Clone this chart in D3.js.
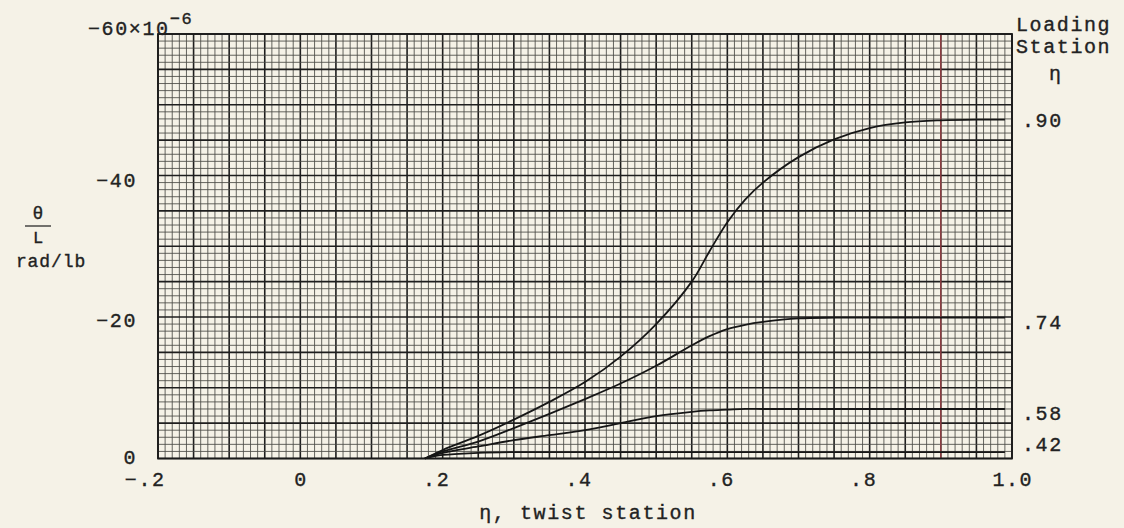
<!DOCTYPE html>
<html>
<head>
<meta charset="utf-8">
<script src="https://cdn.jsdelivr.net/npm/d3@7"></script>
<style>
  html, body { margin: 0; padding: 0; background: #f5f2e7; }
  svg { display: block; }
  text { font-family: "Liberation Mono", "DejaVu Sans Mono", monospace; fill: #222; stroke: #222; stroke-width: 0.35; }
</style>
</head>
<body>
<script>
// Twist per unit load, theta/L (rad/lb x 1e-6), against twist station eta,
// for four loading stations.
const loadingStations = [".90", ".74", ".58", ".42"];

const etaPoints = [0.175, 0.2, 0.25, 0.3, 0.35, 0.4, 0.45, 0.5, 0.55, 0.575, 0.6, 0.625, 0.65, 0.7, 0.75, 0.8, 0.85, 0.9, 0.95, 0.99];

const theta90 = [0, -1.2, -3.2, -5.5, -8.0, -10.8, -14.4, -19.0, -25.0, -29.3, -33.4, -36.6, -39.0, -42.6, -45.1, -46.7, -47.5, -47.8, -47.9, -47.9];
const theta74 = [0, -1.0, -2.4, -4.3, -6.3, -8.4, -10.6, -13.1, -16.0, -17.3, -18.3, -18.9, -19.3, -19.8, -19.9, -19.9, -19.9, -19.9, -19.9, -19.9];
const theta58 = [0, -0.8, -1.7, -2.6, -3.3, -4.0, -5.0, -6.0, -6.6, -6.8, -6.9, -7.0, -7.0, -7.0, -7.0, -7.0, -7.0, -7.0, -7.0, -7.0];
const theta42 = [0, -0.5, -0.8, -0.9, -0.9, -0.9, -0.9, -0.9, -0.9, -0.9, -0.9, -0.9, -0.9, -0.9, -0.9, -0.9, -0.9, -0.9, -0.9, -0.9];

const seriesValues = [theta90, theta74, theta58, theta42];

const xTickValues = [-0.2, 0, 0.2, 0.4, 0.6, 0.8, 1.0];
const xTickLabels = ["\u2212.2", "0", ".2", ".4", ".6", ".8", "1.0"];
const yTickValues = [0, -20, -40];
const yTickLabels = ["0", "\u221220", "\u221240"];

const W = 1124, H = 528;
const svg = d3.select("body").append("svg").attr("width", W).attr("height", H);

const x = d3.scaleLinear().domain([-0.2, 1.0]).range([158, 1012]);
const y = d3.scaleLinear().domain([0, -60]).range([458.5, 34]);

// ---- graph-paper grid: fine lines every 0.01 / 1 unit, heavy every 0.05 / 5 units
const grid = svg.append("g");
const xMinor = d3.range(0, 121).map(i => -0.2 + i * 0.01);
const yMinor = d3.range(0, 61).map(i => -i);

grid.selectAll("line.vx").data(xMinor).join("line")
  .attr("x1", d => x(d)).attr("x2", d => x(d))
  .attr("y1", y(0)).attr("y2", y(-60))
  .attr("stroke", (d, i) => i % 5 === 0 ? "#1e1e1e" : "#4a4a46")
  .attr("stroke-width", (d, i) => i % 5 === 0 ? 1.6 : 0.85);

grid.selectAll("line.hy").data(yMinor).join("line")
  .attr("y1", d => y(d)).attr("y2", d => y(d))
  .attr("x1", x(-0.2)).attr("x2", x(1.0))
  .attr("stroke", (d, i) => i % 5 === 0 ? "#1e1e1e" : "#4a4a46")
  .attr("stroke-width", (d, i) => i % 5 === 0 ? 1.6 : 0.85);

// red marker line at eta = 0.9
grid.append("line")
  .attr("x1", x(0.9)).attr("x2", x(0.9))
  .attr("y1", y(0)).attr("y2", y(-60))
  .attr("stroke", "#a8434a").attr("stroke-width", 1.2);

// plot frame
svg.append("rect")
  .attr("x", x(-0.2)).attr("y", y(-60))
  .attr("width", x(1.0) - x(-0.2)).attr("height", y(0) - y(-60))
  .attr("fill", "none").attr("stroke", "#1a1a1a").attr("stroke-width", 1.8);

// ---- curves
const line = d3.line()
  .x(d => x(d[0])).y(d => y(d[1]))
  .curve(d3.curveCatmullRom.alpha(0.5));

svg.append("g").selectAll("path").data(seriesValues).join("path")
  .attr("d", vals => line(etaPoints.map((e, i) => [e, vals[i]])))
  .attr("fill", "none").attr("stroke", "#161616").attr("stroke-width", 1.8);

// ---- text
const fs = 20, ls = 1.6;
const cw = fs * 0.6 + ls;

// x tick labels: digits centred on the tick, leading "." / "-" hangs left
svg.append("g").selectAll("text").data(xTickValues).join("text")
  .attr("x", (d, i) => {
    const s = xTickLabels[i];
    const lead = s.match(/^[\u2212.]*/)[0].length;
    return x(d) - (lead + (s.length - lead) / 2) * cw + ls / 2;
  })
  .attr("y", 486)
  .attr("font-size", fs).attr("letter-spacing", ls)
  .text((d, i) => xTickLabels[i]);

const yLabelDrop = [5, 10, 11];
svg.append("g").selectAll("text").data(yTickValues).join("text")
  .attr("x", 137).attr("y", (d, i) => y(d) + yLabelDrop[i])
  .attr("text-anchor", "end")
  .attr("font-size", fs).attr("letter-spacing", ls)
  .text((d, i) => yTickLabels[i]);

// top scale label
const scaleLabel = svg.append("text").attr("x", 88).attr("y", 35)
  .attr("font-size", fs).attr("letter-spacing", ls);
scaleLabel.append("tspan").text("\u221260\u00d710");
scaleLabel.append("tspan").attr("dy", -11).attr("font-size", 17).text("\u22126");

// axis titles
svg.append("text").attr("x", 588).attr("y", 519)
  .attr("text-anchor", "middle")
  .attr("font-size", fs).attr("letter-spacing", ls)
  .text("\u03b7, twist station");

svg.append("text").attr("x", 38).attr("y", 219)
  .attr("text-anchor", "middle").attr("font-size", 18).text("\u03b8");
svg.append("line").attr("x1", 25).attr("x2", 51).attr("y1", 226).attr("y2", 226)
  .attr("stroke", "#2a2a2a").attr("stroke-width", 1.3);
svg.append("text").attr("x", 38).attr("y", 243)
  .attr("text-anchor", "middle").attr("font-size", 17).text("L");
svg.append("text").attr("x", 51).attr("y", 267)
  .attr("text-anchor", "middle").attr("font-size", 18).attr("letter-spacing", 0.9).text("rad/lb");

// legend heading on the right
svg.append("text").attr("x", 1016).attr("y", 31)
  .attr("font-size", fs).attr("letter-spacing", ls).text("Loading");
svg.append("text").attr("x", 1016).attr("y", 53)
  .attr("font-size", fs).attr("letter-spacing", ls).text("Station");
svg.append("text").attr("x", 1055).attr("y", 80)
  .attr("text-anchor", "middle")
  .attr("font-size", fs).text("\u03b7");

// station labels placed beside each curve's end value
const labelOffsets = [7, 11, 11, -1];
svg.append("g").selectAll("text").data(loadingStations).join("text")
  .attr("x", 1022)
  .attr("y", (d, i) => y(seriesValues[i][seriesValues[i].length - 1]) + labelOffsets[i])
  .attr("font-size", fs).attr("letter-spacing", ls)
  .text(d => d);
</script>
</body>
</html>
